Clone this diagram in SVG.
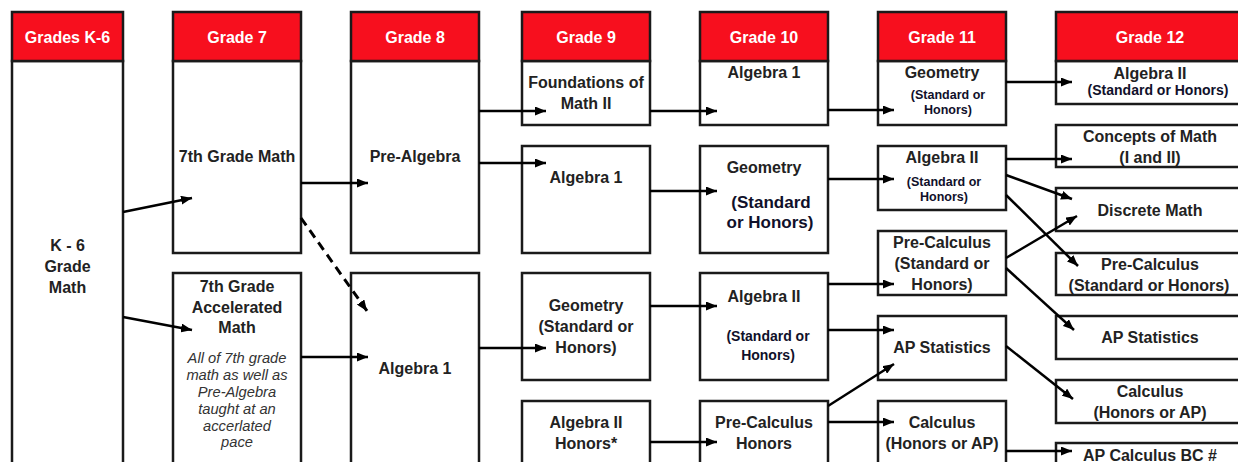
<svg xmlns="http://www.w3.org/2000/svg" width="1238" height="462" viewBox="0 0 1238 462">
<style>
.hd{fill:#f70f1e;stroke:#1a1a1a;stroke-width:2.5}
.bx{fill:#fff;stroke:#1a1a1a;stroke-width:2.5}
text{font-family:"Liberation Sans",Arial,sans-serif;font-weight:bold;text-anchor:middle}
.ht{fill:#fff;font-size:16px}
.t{fill:#222;font-size:16px}
.n{fill:#10102a;font-size:17px}
.s{fill:#10102a;font-size:14px}
.xs{fill:#10102a;font-size:12.5px}
.it{fill:#333;font-size:14.7px;font-weight:normal;font-style:italic}
.c{stroke:#000;stroke-width:2.5;fill:none;marker-end:url(#ah)}
.d{stroke-dasharray:9 6;stroke-width:3}
</style>
<defs>
<marker id="ah" markerUnits="userSpaceOnUse" markerWidth="11" markerHeight="9" refX="11" refY="4.5" orient="auto">
<path d="M0,0 L11,4.5 L0,9 z" fill="#000"/>
</marker>
</defs>
<rect width="1238" height="462" fill="#fff"/>

<g id="k6">
<rect class="bx" x="12" y="61" width="111" height="420"/>
<rect class="hd" x="12" y="12" width="111" height="49"/>
<text class="ht" x="67.5" y="43">Grades K-6</text>
<text class="t" x="67.5" y="251">K - 6</text>
<text class="t" x="67.5" y="272">Grade</text>
<text class="t" x="67.5" y="293">Math</text>
</g>

<g id="g7">
<rect class="bx" x="173" y="61" width="128" height="192"/>
<rect class="hd" x="173" y="12" width="128" height="49"/>
<text class="ht" x="237" y="43">Grade 7</text>
<text class="t" x="237" y="162">7th Grade Math</text>
</g>
<g id="g7acc">
<rect class="bx" x="173" y="273" width="128" height="210"/>
<text class="t" x="237" y="292">7th Grade</text>
<text class="t" x="237" y="313">Accelerated</text>
<text class="t" x="237" y="333">Math</text>
<text class="it" x="237" y="363">All of 7th grade</text>
<text class="it" x="237" y="380">math as well as</text>
<text class="it" x="237" y="397">Pre-Algebra</text>
<text class="it" x="237" y="414">taught at an</text>
<text class="it" x="237" y="431">accerlated</text>
<text class="it" x="237" y="447">pace</text>
</g>

<g id="g8">
<rect class="bx" x="351" y="61" width="128" height="192"/>
<rect class="hd" x="351" y="12" width="128" height="49"/>
<text class="ht" x="415" y="43">Grade 8</text>
<text class="t" x="415" y="162">Pre-Algebra</text>
</g>
<g id="g8alg1">
<rect class="bx" x="351" y="273" width="128" height="210"/>
<text class="t" x="415" y="374">Algebra 1</text>
</g>

<g id="g9found">
<rect class="bx" x="522" y="61" width="128" height="64"/>
<rect class="hd" x="522" y="12" width="128" height="49"/>
<text class="ht" x="586" y="43">Grade 9</text>
<text class="t" x="586" y="88">Foundations of</text>
<text class="t" x="586" y="109">Math II</text>
</g>
<g id="g9alg1">
<rect class="bx" x="522" y="146" width="128" height="107"/>
<text class="t" x="586" y="183">Algebra 1</text>
</g>
<g id="g9geo">
<rect class="bx" x="522" y="273" width="128" height="107"/>
<text class="t" x="586" y="311">Geometry</text>
<text class="t" x="586" y="332">(Standard or</text>
<text class="t" x="586" y="353">Honors)</text>
</g>
<g id="g9alg2h">
<rect class="bx" x="522" y="401" width="128" height="80"/>
<text class="t" x="586" y="428">Algebra II</text>
<text class="t" x="586" y="449">Honors*</text>
</g>

<g id="g10alg1">
<rect class="bx" x="700" y="61" width="128" height="64"/>
<rect class="hd" x="700" y="12" width="128" height="49"/>
<text class="ht" x="764" y="43">Grade 10</text>
<text class="t" x="764" y="78">Algebra 1</text>
</g>
<g id="g10geo">
<rect class="bx" x="700" y="146" width="128" height="107"/>
<text class="t" x="764" y="173">Geometry</text>
<text class="n" x="771" y="208">(Standard</text>
<text class="n" x="770" y="228">or Honors)</text>
</g>
<g id="g10alg2">
<rect class="bx" x="700" y="273" width="128" height="107"/>
<text class="t" x="764" y="302">Algebra II</text>
<text class="s" x="768" y="341">(Standard or</text>
<text class="s" x="768" y="360">Honors)</text>
</g>
<g id="g10prec">
<rect class="bx" x="700" y="401" width="128" height="80"/>
<text class="t" x="764" y="428">Pre-Calculus</text>
<text class="t" x="764" y="449">Honors</text>
</g>

<g id="g11geo">
<rect class="bx" x="878" y="61" width="128" height="64"/>
<rect class="hd" x="878" y="12" width="128" height="49"/>
<text class="ht" x="942" y="43">Grade 11</text>
<text class="t" x="942" y="78">Geometry</text>
<text class="xs" x="948" y="99">(Standard or</text>
<text class="xs" x="948" y="114">Honors)</text>
</g>
<g id="g11alg2">
<rect class="bx" x="878" y="146" width="128" height="64"/>
<text class="t" x="942" y="163">Algebra II</text>
<text class="xs" x="944" y="186">(Standard or</text>
<text class="xs" x="944" y="201">Honors)</text>
</g>
<g id="g11prec">
<rect class="bx" x="878" y="231" width="128" height="64"/>
<text class="t" x="942" y="248">Pre-Calculus</text>
<text class="t" x="942" y="269">(Standard or</text>
<text class="t" x="942" y="290">Honors)</text>
</g>
<g id="g11apstat">
<rect class="bx" x="878" y="316" width="128" height="64"/>
<text class="t" x="942" y="353">AP Statistics</text>
</g>
<g id="g11calc">
<rect class="bx" x="878" y="401" width="128" height="80"/>
<text class="t" x="942" y="428">Calculus</text>
<text class="t" x="942" y="449">(Honors or AP)</text>
</g>

<g id="g12alg2">
<rect class="bx" x="1056" y="61" width="190" height="43"/>
<rect class="hd" x="1056" y="12" width="190" height="49"/>
<text class="ht" x="1150" y="43">Grade 12</text>
<text class="t" x="1150" y="79">Algebra II</text>
<text class="s" x="1158" y="95">(Standard or Honors)</text>
</g>
<g id="g12concepts">
<rect class="bx" x="1056" y="125" width="190" height="42"/>
<text class="t" x="1150" y="142">Concepts of Math</text>
<text class="t" x="1150" y="163">(I and II)</text>
</g>
<g id="g12discrete">
<rect class="bx" x="1056" y="188" width="190" height="43"/>
<text class="t" x="1150" y="216">Discrete Math</text>
</g>
<g id="g12prec">
<rect class="bx" x="1056" y="253" width="190" height="42"/>
<text class="t" x="1150" y="270">Pre-Calculus</text>
<text class="t" x="1149" y="291">(Standard or Honors)</text>
</g>
<g id="g12apstat">
<rect class="bx" x="1056" y="316" width="190" height="43"/>
<text class="t" x="1150" y="343">AP Statistics</text>
</g>
<g id="g12calc">
<rect class="bx" x="1056" y="380" width="190" height="43"/>
<text class="t" x="1150" y="397">Calculus</text>
<text class="t" x="1150" y="418">(Honors or AP)</text>
</g>
<g id="g12bc">
<rect class="bx" x="1056" y="443" width="190" height="40"/>
<text class="t" x="1150" y="461">AP Calculus BC #</text>
</g>

<g id="connectors">
<line class="c" x1="123" y1="212" x2="192" y2="198"/>
<line class="c" x1="123" y1="317" x2="192" y2="330"/>
<line class="c" x1="301" y1="183" x2="368" y2="183"/>
<line class="c d" x1="301" y1="218" x2="367" y2="311"/>
<line class="c" x1="301" y1="357" x2="368" y2="357"/>
<line class="c" x1="479" y1="111" x2="546" y2="111"/>
<line class="c" x1="479" y1="163" x2="546" y2="163"/>
<line class="c" x1="479" y1="348" x2="546" y2="348"/>
<line class="c" x1="650" y1="111" x2="717" y2="111"/>
<line class="c" x1="650" y1="191" x2="717" y2="191"/>
<line class="c" x1="650" y1="306" x2="717" y2="306"/>
<line class="c" x1="650" y1="442" x2="717" y2="442"/>
<line class="c" x1="828" y1="110" x2="894" y2="110"/>
<line class="c" x1="828" y1="179" x2="894" y2="179"/>
<line class="c" x1="828" y1="284" x2="894" y2="284"/>
<line class="c" x1="828" y1="330" x2="894" y2="330"/>
<line class="c" x1="828" y1="406" x2="894" y2="364"/>
<line class="c" x1="828" y1="422" x2="894" y2="422"/>
<line class="c" x1="1006" y1="82" x2="1072" y2="82"/>
<line class="c" x1="1006" y1="159" x2="1072" y2="159"/>
<line class="c" x1="1006" y1="175" x2="1072" y2="199"/>
<line class="c" x1="1006" y1="195" x2="1078" y2="266"/>
<line class="c" x1="1006" y1="258" x2="1077" y2="216"/>
<line class="c" x1="1006" y1="268" x2="1074" y2="330"/>
<line class="c" x1="1006" y1="346" x2="1073" y2="399"/>
<line class="c" x1="1006" y1="451" x2="1072" y2="451"/>
</g>
</svg>
